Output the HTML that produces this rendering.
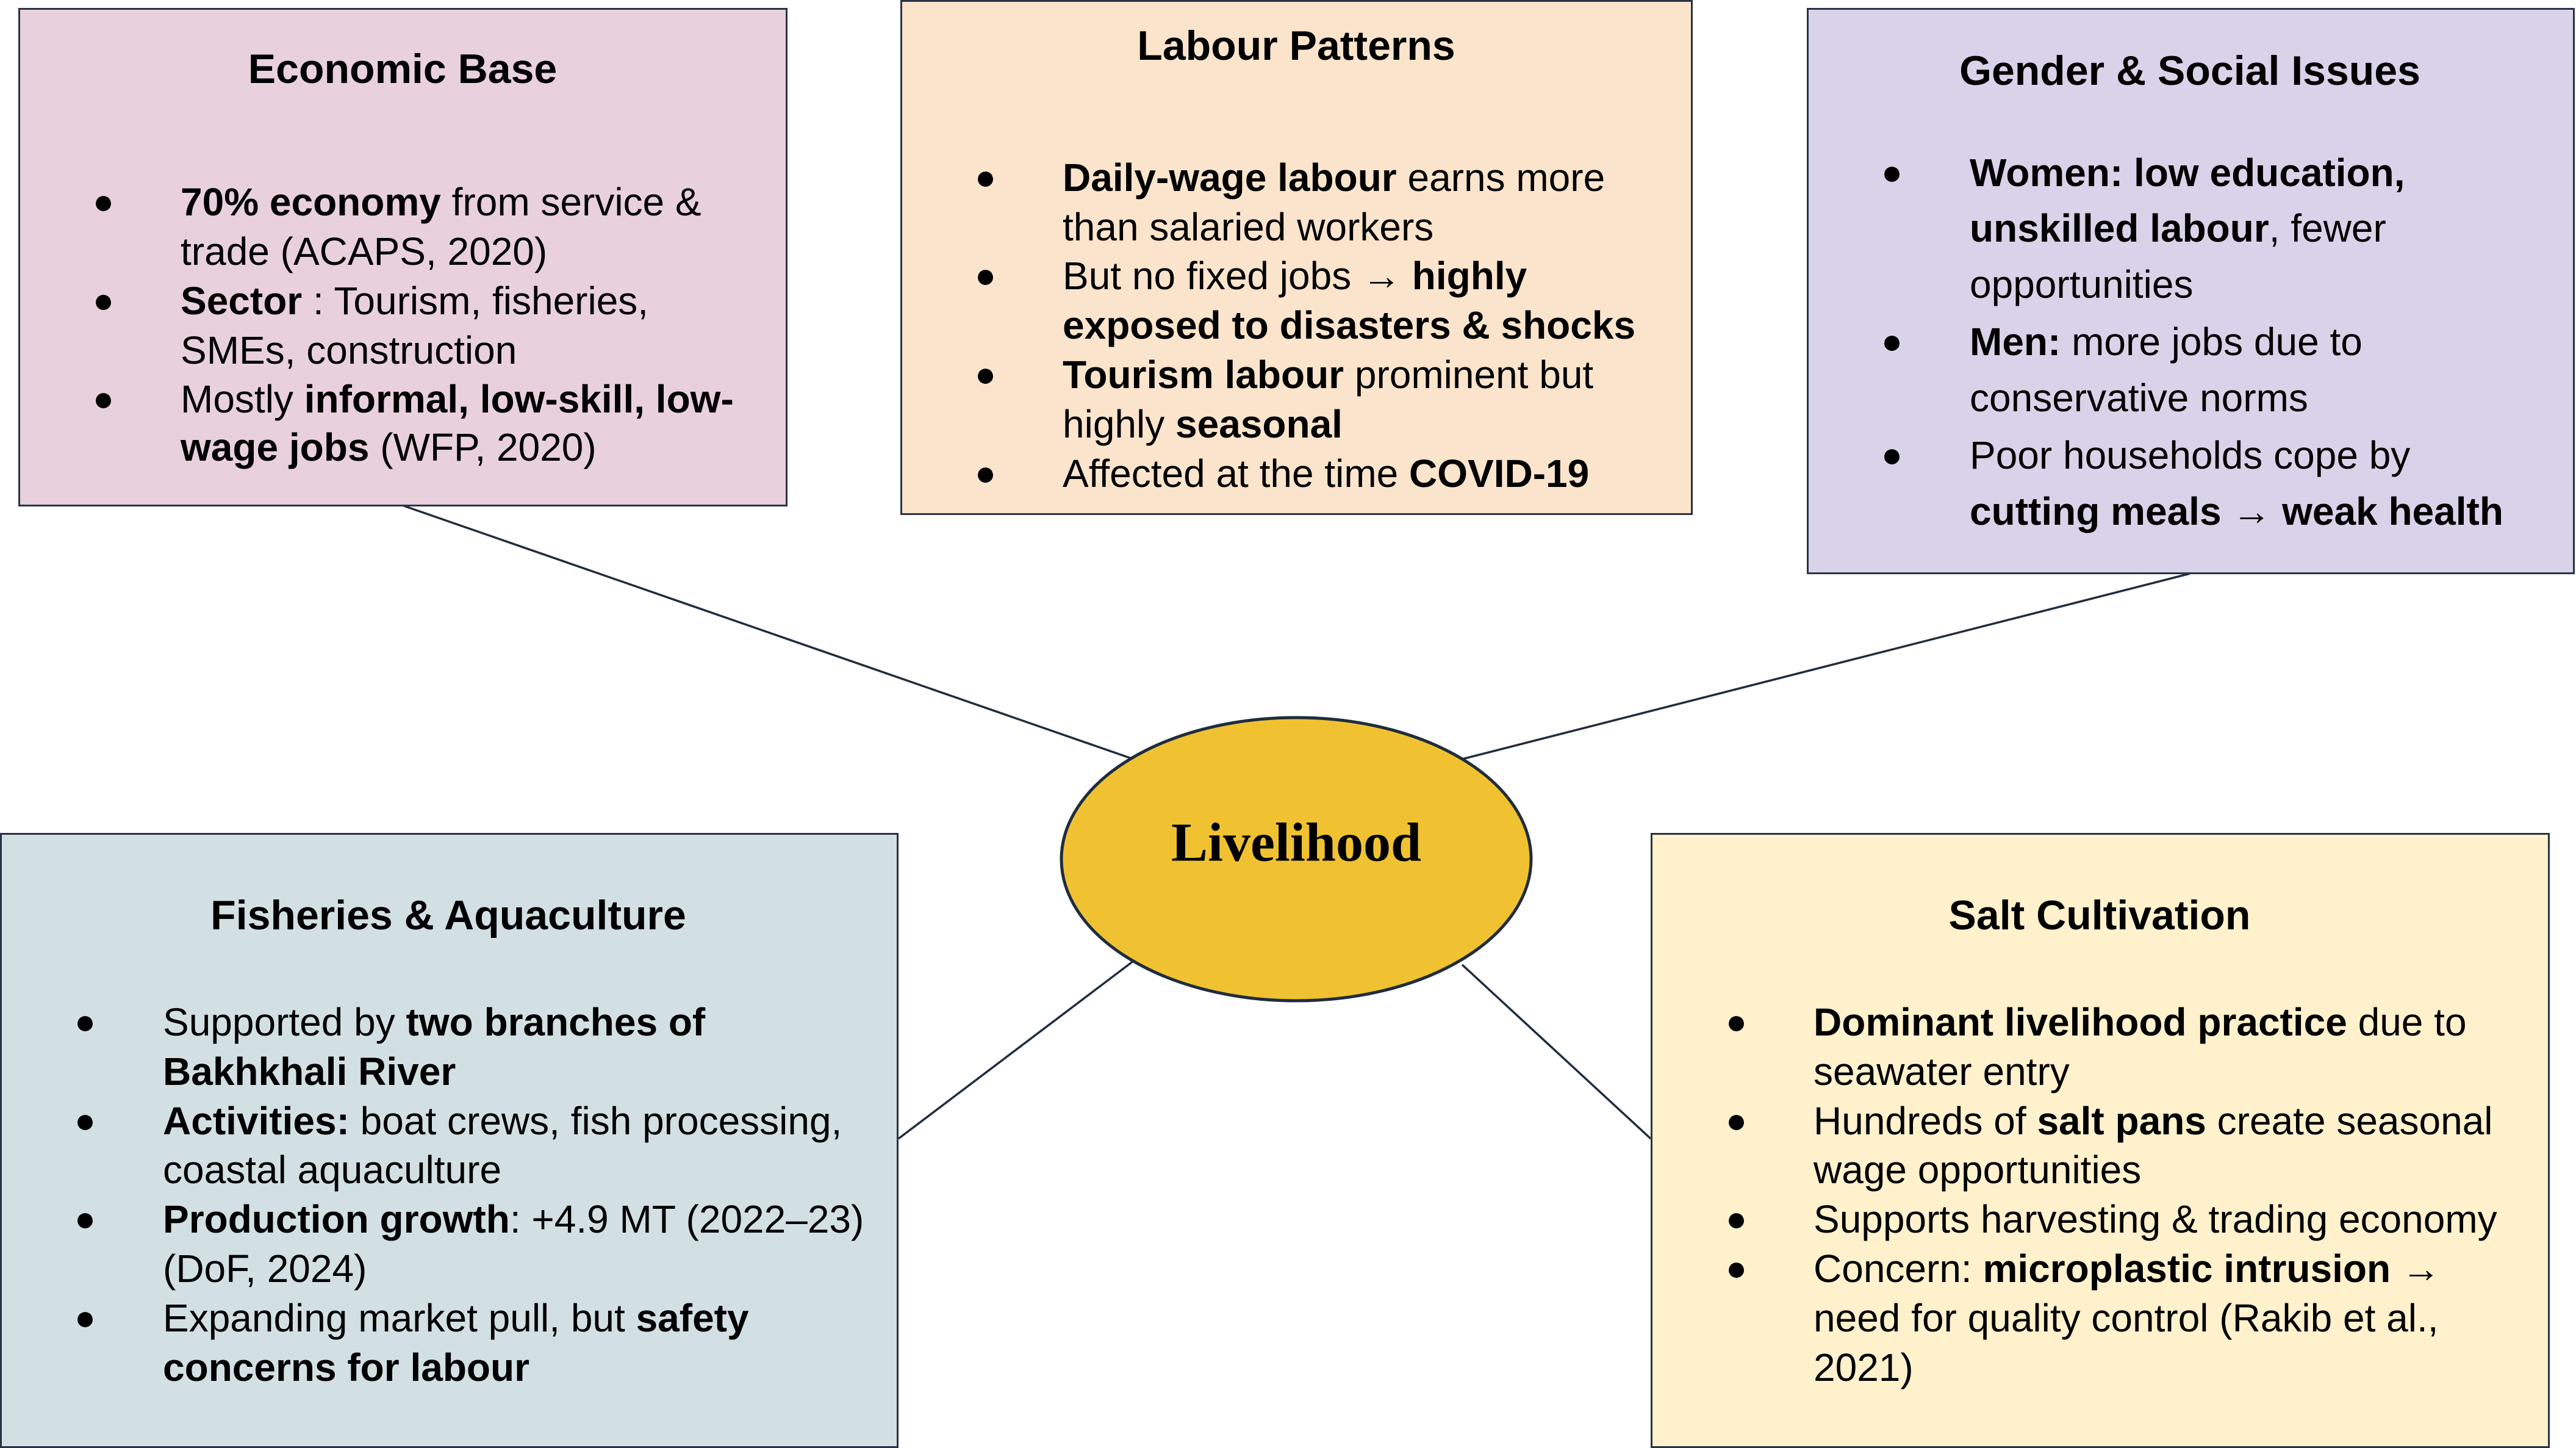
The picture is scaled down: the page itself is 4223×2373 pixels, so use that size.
<!DOCTYPE html>
<html><head><meta charset="utf-8"><style>
*{margin:0;padding:0;box-sizing:border-box}
body{width:4223px;height:2373px;background:#fff;position:relative;overflow:hidden;font-family:"Liberation Sans",sans-serif;color:#000}
.box{position:absolute;border:3px solid #2a3344}
.t{position:absolute;height:80px;line-height:80px;font-size:64px;white-space:nowrap}
.h{position:absolute;height:80px;line-height:80px;font-size:68px;font-weight:bold;white-space:nowrap;transform:translateX(-50%)}
.b{position:absolute;height:80px;line-height:80px;font-size:58px}
</style></head><body>
<svg width="4223" height="2373" style="position:absolute;left:0;top:0">
<g stroke="#1f2d3d" stroke-width="3.5">
<line x1="662" y1="829" x2="1858" y2="1244"/>
<line x1="3590" y1="940" x2="2397" y2="1244"/>
<line x1="1858" y1="1575" x2="1473" y2="1866"/>
<line x1="2397" y1="1581" x2="2706" y2="1866"/>
</g>
<ellipse cx="2125" cy="1408" rx="385" ry="232" fill="#f0c232" stroke="#1f2d3d" stroke-width="5"/>
<text x="2125" y="1390" text-anchor="middle" dominant-baseline="middle" font-family="Liberation Serif,serif" font-weight="bold" font-size="90">Livelihood</text>
</svg>

<div class="box" style="left:30px;top:13px;width:1261px;height:817px;background:#e8d1dc"></div>
<div class="box" style="left:1476px;top:0;width:1299px;height:844px;background:#fbe4cc"></div>
<div class="box" style="left:2962px;top:13px;width:1259px;height:928px;background:#d9d3e9"></div>
<div class="box" style="left:0;top:1365px;width:1473px;height:1008px;background:#d2e0e3"></div>
<div class="box" style="left:2706px;top:1365px;width:1474px;height:1008px;background:#fef1cc"></div>

<!-- Economic Base -->
<div class="h" style="left:660px;top:73px">Economic Base</div>
<div class="b" style="left:152px;top:291px">●</div>
<div class="t" style="left:296px;top:291px"><b>70% economy</b> from service &amp;</div>
<div class="t" style="left:296px;top:372px">trade (ACAPS, 2020)</div>
<div class="b" style="left:152px;top:453px">●</div>
<div class="t" style="left:296px;top:453px"><b>Sector</b> : Tourism, fisheries,</div>
<div class="t" style="left:296px;top:534px">SMEs, construction</div>
<div class="b" style="left:152px;top:614px">●</div>
<div class="t" style="left:296px;top:614px">Mostly <b>informal, low-skill, low-</b></div>
<div class="t" style="left:296px;top:693px"><b>wage jobs</b> (WFP, 2020)</div>

<!-- Labour Patterns -->
<div class="h" style="left:2125px;top:35px">Labour Patterns</div>
<div class="b" style="left:1598px;top:251px">●</div>
<div class="t" style="left:1742px;top:251px"><b>Daily-wage labour</b> earns more</div>
<div class="t" style="left:1742px;top:332px">than salaried workers</div>
<div class="b" style="left:1598px;top:412px">●</div>
<div class="t" style="left:1742px;top:412px">But no fixed jobs → <b>highly</b></div>
<div class="t" style="left:1742px;top:493px"><b>exposed to disasters &amp; shocks</b></div>
<div class="b" style="left:1598px;top:574px">●</div>
<div class="t" style="left:1742px;top:574px"><b>Tourism labour</b> prominent but</div>
<div class="t" style="left:1742px;top:655px">highly <b>seasonal</b></div>
<div class="b" style="left:1598px;top:736px">●</div>
<div class="t" style="left:1742px;top:736px">Affected at the time <b>COVID-19</b></div>

<!-- Gender -->
<div class="h" style="left:3590px;top:76px">Gender &amp; Social Issues</div>
<div class="b" style="left:3084px;top:243px">●</div>
<div class="t" style="left:3229px;top:243px"><b>Women: low education,</b></div>
<div class="t" style="left:3229px;top:334px"><b>unskilled labour</b>, fewer</div>
<div class="t" style="left:3229px;top:426px">opportunities</div>
<div class="b" style="left:3084px;top:520px">●</div>
<div class="t" style="left:3229px;top:520px"><b>Men:</b> more jobs due to</div>
<div class="t" style="left:3229px;top:612px">conservative norms</div>
<div class="b" style="left:3084px;top:706px">●</div>
<div class="t" style="left:3229px;top:706px">Poor households cope by</div>
<div class="t" style="left:3229px;top:798px"><b>cutting meals → weak health</b></div>

<!-- Fisheries -->
<div class="h" style="left:735px;top:1460px">Fisheries &amp; Aquaculture</div>
<div class="b" style="left:122px;top:1635px">●</div>
<div class="t" style="left:267px;top:1635px">Supported by <b>two branches of</b></div>
<div class="t" style="left:267px;top:1716px"><b>Bakhkhali River</b></div>
<div class="b" style="left:122px;top:1797px">●</div>
<div class="t" style="left:267px;top:1797px"><b>Activities:</b> boat crews, fish processing,</div>
<div class="t" style="left:267px;top:1877px">coastal aquaculture</div>
<div class="b" style="left:122px;top:1958px">●</div>
<div class="t" style="left:267px;top:1958px"><b>Production growth</b>: +4.9 MT (2022–23)</div>
<div class="t" style="left:267px;top:2039px">(DoF, 2024)</div>
<div class="b" style="left:122px;top:2120px">●</div>
<div class="t" style="left:267px;top:2120px">Expanding market pull, but <b>safety</b></div>
<div class="t" style="left:267px;top:2201px"><b>concerns for labour</b></div>

<!-- Salt -->
<div class="h" style="left:3442px;top:1460px">Salt Cultivation</div>
<div class="b" style="left:2829px;top:1635px">●</div>
<div class="t" style="left:2973px;top:1635px"><b>Dominant livelihood practice</b> due to</div>
<div class="t" style="left:2973px;top:1716px">seawater entry</div>
<div class="b" style="left:2829px;top:1797px">●</div>
<div class="t" style="left:2973px;top:1797px">Hundreds of <b>salt pans</b> create seasonal</div>
<div class="t" style="left:2973px;top:1877px">wage opportunities</div>
<div class="b" style="left:2829px;top:1958px">●</div>
<div class="t" style="left:2973px;top:1958px">Supports harvesting &amp; trading economy</div>
<div class="b" style="left:2829px;top:2039px">●</div>
<div class="t" style="left:2973px;top:2039px">Concern: <b>microplastic intrusion</b> →</div>
<div class="t" style="left:2973px;top:2120px">need for quality control (Rakib et al.,</div>
<div class="t" style="left:2973px;top:2201px">2021)</div>
</body></html>
